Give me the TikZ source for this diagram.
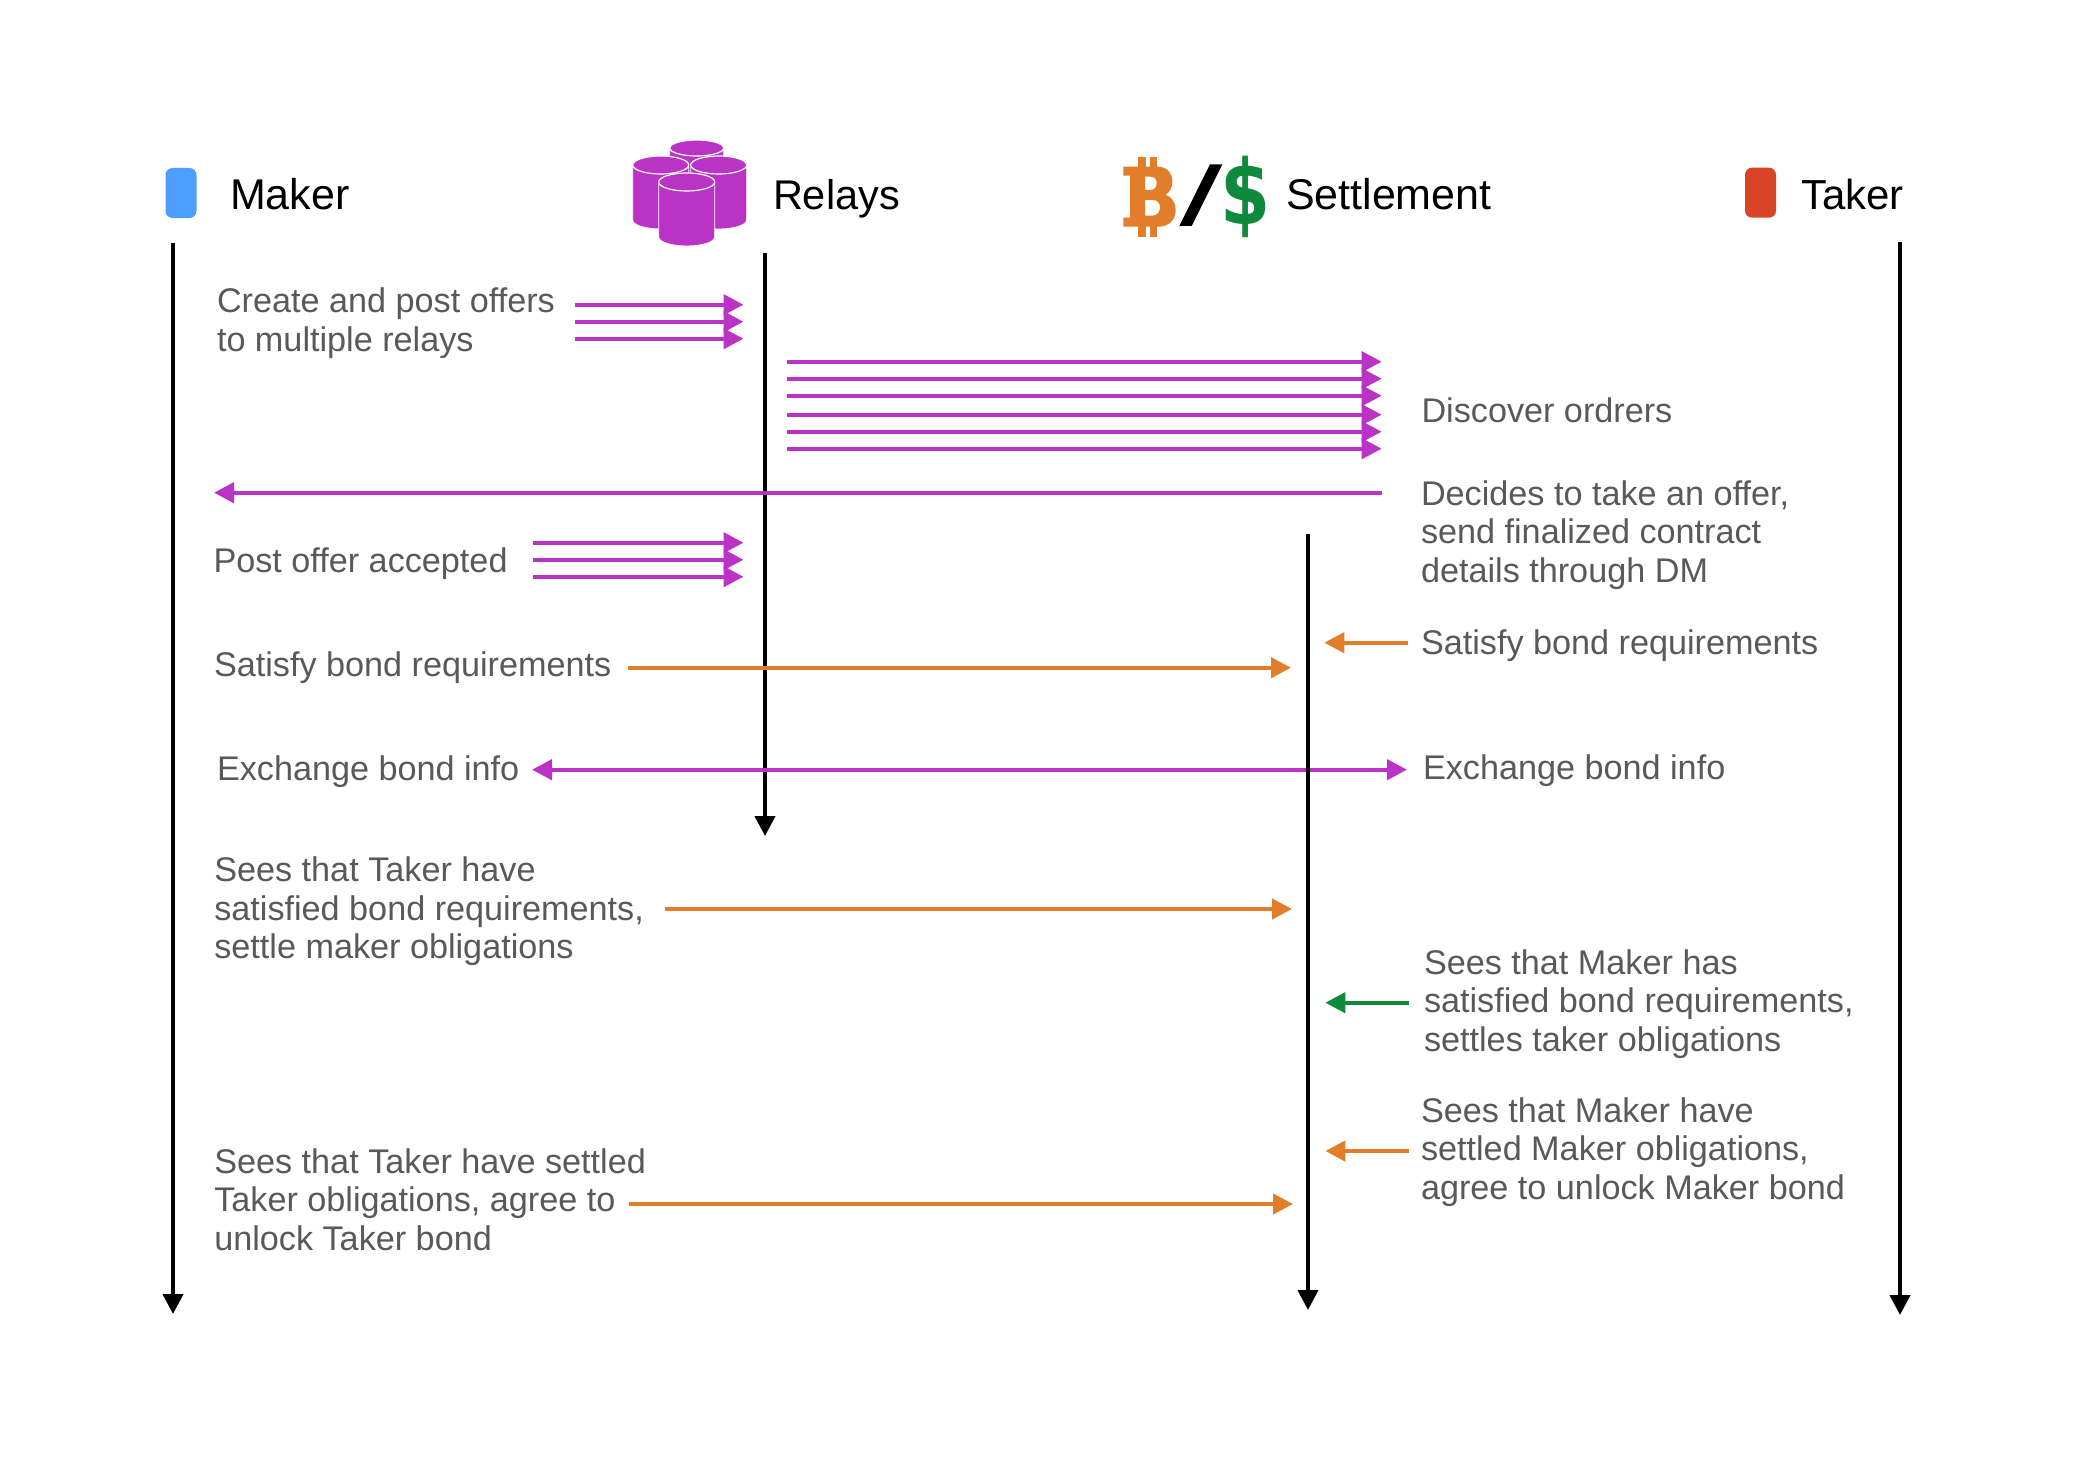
\documentclass[tikz,border=0pt]{standalone}
\usepackage{fontspec}
\setmainfont{Liberation Sans}
\newfontfamily\dvbold{DejaVu Sans Bold}
\usetikzlibrary{arrows.meta}
\definecolor{mag}{HTML}{BA33C6}
\definecolor{org}{HTML}{E27D2A}
\definecolor{grn}{HTML}{0F8A3C}
\definecolor{makerblue}{HTML}{4D9EFF}
\definecolor{takerred}{HTML}{D94426}
\definecolor{txt}{HTML}{595959}
\tikzset{
  lbl/.style={anchor=base west,inner sep=0pt,outer sep=0pt,align=left,text=txt,font=\fontsize{34.2}{38.5}\selectfont},
  ttl/.style={anchor=base west,inner sep=0pt,outer sep=0pt,text=black,font=\fontsize{43}{50}\selectfont},
  lifeline/.style={line width=4.2pt,draw=black,-{Triangle[length=20pt,width=20pt]}},
  msg/.style={line width=4.2pt,-{Triangle[length=20pt,width=20pt]}},
  msgboth/.style={line width=4.2pt,{Triangle[length=20pt,width=20pt]}-{Triangle[length=20pt,width=20pt]}},
  rolebox/.style={rectangle,rounded corners=7pt,minimum width=31pt,minimum height=50pt,inner sep=0pt},
  cyl/.style={fill=mag,draw=white,line width=.8pt},
}
\newcommand{\conn}[6]{% name, x1, y1, x2, y2, style
  \coordinate (#1s) at (#2,#3);
  \coordinate (#1e) at (#4,#5);
  \draw[#6] (#1s) -- (#1e);
}
\newcommand{\can}[5]{% cx, cy(top), rx, ry, bottom y (sides)
  \path[cyl] (#1-#3,#2+2) -- (#1-#3,#5) arc[start angle=180,end angle=360,x radius=#3pt,y radius=#4pt] -- (#1+#3,#2+2) -- cycle;
  \path[cyl,line width=1.2pt] (#1,#2) ellipse[x radius=#3pt,y radius=#4pt];
}
\begin{document}
\begin{tikzpicture}[x=1pt,y=-1pt]
\useasboundingbox (0,0) rectangle (2087,1466);
\fill[white] (0,0) rectangle (2087,1466);
% role markers
\node[rolebox,fill=makerblue] (makerbox) at (181,193) {};
\node[rolebox,fill=takerred] (takerbox) at (1760.5,192.7) {};
% relays icon
\can{696.7}{148}{27}{8}{172}
\can{660.7}{165}{28}{9}{220}
\can{718.7}{165}{28}{9}{220}
\can{686.7}{182}{28}{9}{237}
% settlement icon
\begin{scope}[shift={(1120,145)},x=.3333pt,y=-.3333pt]
\fill[org,even odd rule]
  (10,65) -- (112,65) .. controls (142,65) and (157,85) .. (157,108)
  .. controls (157,128) and (150,142) .. (136,149)
  .. controls (156,156) and (167,173) .. (167,195)
  .. controls (167,225) and (146,245) .. (116,245) -- (10,245) -- (10,218) -- (30,218) -- (30,92) -- (10,92) -- cycle
  (75,95) -- (92,95) .. controls (104,95) and (110,103) .. (110,114) .. controls (110,126) and (104,135) .. (92,135) -- (75,135) -- cycle
  (75,165) -- (98,165) .. controls (112,165) and (120,174) .. (120,187) .. controls (120,200) and (112,212) .. (98,212) -- (75,212) -- cycle;
\fill[org] (55,35) rectangle (78,66);
\fill[org] (90,35) rectangle (112,66);
\fill[org] (55,244) rectangle (78,275);
\fill[org] (90,244) rectangle (112,275);
\fill[black] (178,243) -- (215,243) -- (307,58) -- (270,58) -- cycle;
\end{scope}
\node[anchor=base,inner sep=0pt,text=grn,font=\fontsize{90}{90}\dvbold\selectfont,xscale=.8,transform shape] (usd) at (1246,224) {\$};
% titles
\node[ttl] (tmaker) at (230,209) {Maker};
\node[ttl,font=\fontsize{41.5}{50}\selectfont] (trelays) at (773,209) {Relays};
\node[ttl] (tsettle) at (1286,209.5) {Settlement};
\node[ttl,font=\fontsize{42}{50}\selectfont] (ttaker) at (1801,209) {Taker};
% lifelines under the messages
\conn{lm}{173}{243}{173}{1314}{lifeline}
\conn{lr}{765}{253}{765}{836}{lifeline}
\conn{lt}{1900}{242}{1900}{1315}{lifeline}
% messages
\conn{a1}{575}{304.7}{743.5}{304.7}{msg,color=mag}
\conn{a2}{575}{321.7}{743.5}{321.7}{msg,color=mag}
\conn{a3}{575}{338.7}{743.5}{338.7}{msg,color=mag}
\conn{b1}{787}{361.7}{1381.7}{361.7}{msg,color=mag}
\conn{b2}{787}{378.7}{1381.7}{378.7}{msg,color=mag}
\conn{b3}{787}{395.7}{1381.7}{395.7}{msg,color=mag}
\conn{b4}{787}{414.7}{1381.7}{414.7}{msg,color=mag}
\conn{b5}{787}{431.7}{1381.7}{431.7}{msg,color=mag}
\conn{b6}{787}{448.7}{1381.7}{448.7}{msg,color=mag}
\conn{c}{1381.7}{492.7}{214}{492.7}{msg,color=mag}
\conn{d1}{533}{542.7}{743.5}{542.7}{msg,color=mag}
\conn{d2}{533}{559.7}{743.5}{559.7}{msg,color=mag}
\conn{d3}{533}{576.7}{743.5}{576.7}{msg,color=mag}
\conn{e}{628}{667.7}{1291}{667.7}{msg,color=org}
\conn{f}{532}{769.7}{1407}{769.7}{msgboth,color=mag}
\conn{g}{665}{909}{1292}{909}{msg,color=org}
\conn{h}{629}{1204}{1293}{1204}{msg,color=org}
\conn{i}{1408}{642.7}{1324.3}{642.7}{msg,color=org}
\conn{j}{1409}{1002.7}{1325.3}{1002.7}{msg,color=grn}
\conn{k}{1409}{1151}{1325.3}{1151}{msg,color=org}
% settlement lifeline on top
\conn{ls}{1308}{534}{1308}{1310}{lifeline}
% labels (position = baseline of last line)
\node[lbl] (l1) at (217,351) {Create and post offers\\to multiple relays};
\node[lbl] (l2) at (213.5,572) {Post offer accepted};
\node[lbl] (l3) at (214,676) {Satisfy bond requirements};
\node[lbl] (l4) at (217,780) {Exchange bond info};
\node[lbl] (l5) at (214.3,958.5) {Sees that Taker have\\satisfied bond requirements,\\settle maker obligations};
\node[lbl] (l6) at (214.3,1250) {Sees that Taker have settled\\Taker obligations, agree to\\unlock Taker bond};
\node[lbl] (r1) at (1421.5,422.7) {Discover ordrers};
\node[lbl] (r2) at (1421,582) {Decides to take an offer,\\send finalized contract\\details through DM};
\node[lbl] (r3) at (1421,654) {Satisfy bond requirements};
\node[lbl] (r4) at (1423,779) {Exchange bond info};
\node[lbl] (r5) at (1424,1051) {Sees that Maker has\\satisfied bond requirements,\\settles taker obligations};
\node[lbl] (r6) at (1421,1199) {Sees that Maker have\\settled Maker obligations,\\agree to unlock Maker bond};
\end{tikzpicture}
\end{document}
